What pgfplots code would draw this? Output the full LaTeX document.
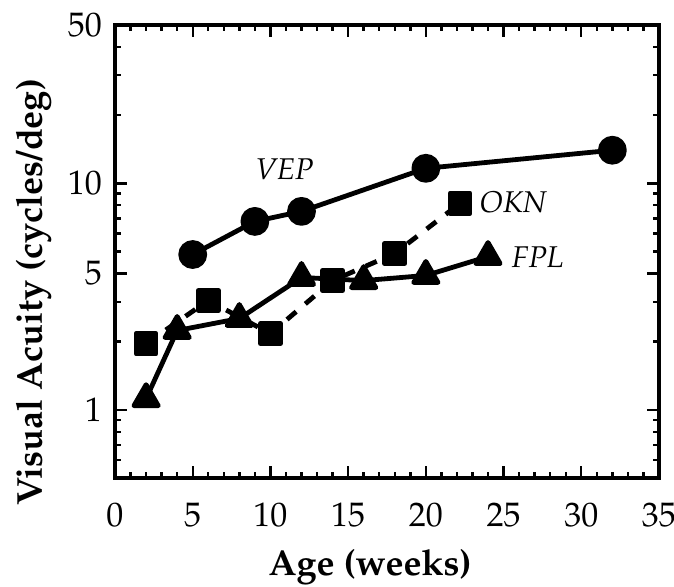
\documentclass[border=0pt]{standalone}
\usepackage[T1]{fontenc}
\usepackage{mathpazo}
\usepackage{pgfplots}
\pgfplotsset{compat=1.18}

\begin{document}
\begin{tikzpicture}[x=1pt,y=1pt]
% page size fixed to the reference proportions
\path[use as bounding box] (-57.5,-54) rectangle (279.5,239);
\begin{axis}[
    at={(0,0)}, anchor=south west,
    width=272pt, height=226.5pt, scale only axis,
    ymode=log,
    xmin=0, xmax=35, ymin=0.5, ymax=50,
    xtick={0,5,...,35}, minor x tick num=4,
    ytick={1,4,10,50}, yticklabels={1,5,10,50},
    minor ytick={0.6,0.7,0.8,0.9,2,3,5,6,7,8,9,20,30,40},
    axis line style={line width=2pt},
    major tick length=6pt, minor tick length=3pt,
    every tick/.style={black, line width=1.2pt},
    tick label style={font=\fontsize{17}{19}\selectfont},
    xticklabel style={yshift=-9pt},
    yticklabel style={xshift=-3pt},
    xlabel={\textbf{Age (weeks)}},
    ylabel={\textbf{Visual Acuity (cycles/deg)}},
    label style={font=\fontsize{18}{21}\selectfont},
    xlabel style={at={(axis description cs:0.469,-0.196)}, anchor=center},
    ylabel style={at={(axis description cs:-0.15,0.41)}, anchor=center},
    every axis plot/.append style={black, line width=2.4pt, line join=round},
]

% VEP
\addplot[mark=*, mark size=6pt] coordinates {
    (5,4.85) (9,6.79) (12,7.52) (20,11.65) (32,14.0)
};

% OKN
\addplot[dash pattern=on 6pt off 6pt, mark=square*, mark size=5pt,
    mark options={solid}] coordinates {
    (2,1.96) (6,3.04) (10,2.17) (14,3.72) (18,4.90) (22.2,8.16)
};

% FPL
\addplot[mark=triangle*, mark size=7pt, mark options={solid}] coordinates {
    (2,1.12) (4,2.24) (8,2.53) (12,3.84) (16,3.72) (20,3.92) (24,4.75)
};

\node[font=\itshape\fontsize{15}{17}\selectfont] at (axis cs:10.9,11.5) {VEP};
\node[font=\itshape\fontsize{15}{17}\selectfont] at (axis cs:25.6,8.24) {OKN};
\node[font=\itshape\fontsize{15}{17}\selectfont] at (axis cs:27.2,4.7) {FPL};
\end{axis}
\end{tikzpicture}
\end{document}
